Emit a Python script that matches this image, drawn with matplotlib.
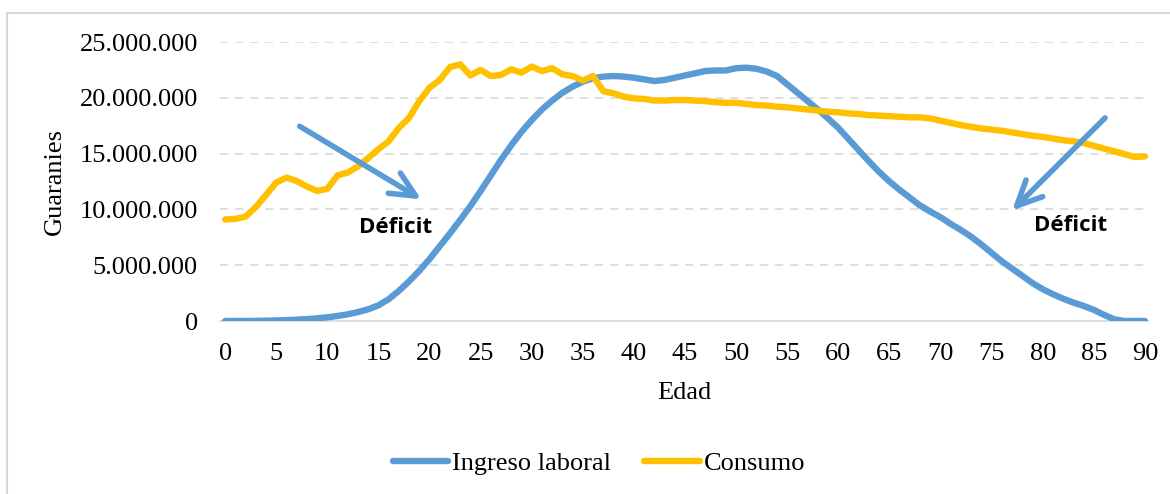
import numpy as np
import matplotlib
matplotlib.use("Agg")
import matplotlib.pyplot as plt
from matplotlib.ticker import FuncFormatter, MultipleLocator
from matplotlib.lines import Line2D

# -----------------------------
# Data (millions of guaranies, by single year of age)
# -----------------------------
edad = list(range(0, 91))

ingreso_laboral = [
    0.0, 0.0, 0.0, 0.01, 0.03, 0.05, 0.08, 0.12, 0.17, 0.24,
    0.33, 0.45, 0.6, 0.8, 1.05, 1.4, 1.95, 2.7, 3.55, 4.5,
    5.55, 6.7, 7.85, 9.05, 10.3, 11.65, 13.05, 14.45, 15.75, 16.95,
    18.0, 18.95, 19.75, 20.45, 21.0, 21.45, 21.75, 21.9, 21.95, 21.9,
    21.8, 21.65, 21.5, 21.6, 21.8, 22.0, 22.2, 22.4, 22.45, 22.45,
    22.65, 22.7, 22.6, 22.35, 21.95, 21.2, 20.45, 19.7, 18.95, 18.15,
    17.3, 16.3, 15.3, 14.3, 13.35, 12.5, 11.75, 11.05, 10.35, 9.8,
    9.3, 8.7, 8.15, 7.55, 6.85, 6.1, 5.35, 4.7, 4.05, 3.4,
    2.85, 2.4, 2.0, 1.65, 1.35, 1.0, 0.55, 0.15, 0.0, 0.0,
    0.0,
]

consumo = [
    9.1, 9.15, 9.35, 10.2, 11.3, 12.4, 12.85, 12.55, 12.05, 11.65,
    11.85, 13.05, 13.3, 13.85, 14.6, 15.4, 16.1, 17.3, 18.2, 19.7,
    20.9, 21.6, 22.75, 23.0, 22.0, 22.5, 21.95, 22.05, 22.55, 22.25,
    22.8, 22.4, 22.65, 22.1, 21.95, 21.55, 21.95, 20.6, 20.4, 20.1,
    19.95, 19.9, 19.75, 19.75, 19.8, 19.8, 19.75, 19.7, 19.6, 19.55,
    19.55, 19.45, 19.35, 19.3, 19.2, 19.15, 19.05, 18.95, 18.85, 18.75,
    18.7, 18.6, 18.55, 18.45, 18.4, 18.35, 18.3, 18.25, 18.25, 18.15,
    17.95, 17.75, 17.55, 17.4, 17.25, 17.15, 17.05, 16.9, 16.75, 16.6,
    16.5, 16.35, 16.2, 16.1, 15.95, 15.7, 15.45, 15.2, 14.95, 14.7,
    14.75,
]

# annotation arrows: (start age, start value), (end age, end value)
flecha_joven = [(7.3, 17.45), (19.2, 10.9)]
flecha_mayor = [(86.1, 18.2), (77.0, 9.9)]

AZUL = "#5B9BD5"
AMARILLO = "#FFC000"
GRIS = "#D9D9D9"

plt.rcParams["font.family"] = ["Liberation Serif", "DejaVu Serif"]

# -----------------------------
# Figure
# -----------------------------
fig = plt.figure(figsize=(11.7, 4.94), dpi=100)
ax = fig.add_axes([220 / 1170, 1 - 321 / 494, (1148 - 220) / 1170, (321 - 42) / 494])

x = np.array(edad)
y1 = np.array(ingreso_laboral) * 1e6
y2 = np.array(consumo) * 1e6

ax.plot(x, y1, color=AZUL, lw=4.6, solid_capstyle="round", solid_joinstyle="round",
        label="Ingreso laboral", zorder=3)
ax.plot(x, y2, color=AMARILLO, lw=4.6, solid_capstyle="round", solid_joinstyle="round",
        label="Consumo", zorder=3)

ax.set_xlim(-0.5, 90.3)
ax.set_ylim(0, 25e6)
ax.xaxis.set_major_locator(MultipleLocator(5))
ax.yaxis.set_major_locator(MultipleLocator(5e6))
ax.yaxis.set_major_formatter(
    FuncFormatter(lambda v, p: f"{int(v):,}".replace(",", "."))
)

ax.grid(axis="y", color=GRIS, linestyle=(0, (5, 4)), linewidth=1.2, zorder=0)
for s in ["top", "right", "left"]:
    ax.spines[s].set_visible(False)
ax.spines["bottom"].set_color(GRIS)
ax.spines["bottom"].set_linewidth(1.2)
ax.tick_params(axis="both", length=0, labelsize=19)
ax.tick_params(axis="y", pad=16)
ax.tick_params(axis="x", pad=16)

ax.set_xlabel("Edad", fontsize=19, labelpad=12)
ax.set_ylabel("Guaranies", fontsize=19, labelpad=10)

# Arrows and labels
for (x0, v0), (x1, v1) in [flecha_joven, flecha_mayor]:
    ax.annotate("", xy=(x1, v1 * 1e6), xytext=(x0, v0 * 1e6),
                arrowprops=dict(arrowstyle="->,head_length=1.8,head_width=0.85",
                                color=AZUL, lw=4, capstyle="round",
                                shrinkA=0, shrinkB=0),
                zorder=4)

ax.text(16.7, 8.42e6, "Déficit", fontsize=16, fontweight="bold",
        family=["Open Sans", "DejaVu Sans"], ha="center", va="center")
ax.text(82.7, 8.6e6, "Déficit", fontsize=16, fontweight="bold",
        family=["Open Sans", "DejaVu Sans"], ha="center", va="center")

# Legend
handles = [Line2D([], [], color=AZUL, lw=4.6, solid_capstyle="round"),
           Line2D([], [], color=AMARILLO, lw=4.6, solid_capstyle="round")]
fig.legend(handles, ["Ingreso laboral", "Consumo"], loc="center",
           bbox_to_anchor=(599 / 1170, 1 - 463 / 494), ncol=2, frameon=False,
           fontsize=19, handlelength=2.1, handletextpad=0.15, columnspacing=1.25)

# Chart border
fig.add_artist(Line2D([7 / 1170, 7 / 1170], [0, 1 - 13 / 494], color=GRIS, lw=1.5))
fig.add_artist(Line2D([7 / 1170, 1], [1 - 13 / 494, 1 - 13 / 494], color=GRIS, lw=1.5))

fig.savefig("out.png", dpi=100)
